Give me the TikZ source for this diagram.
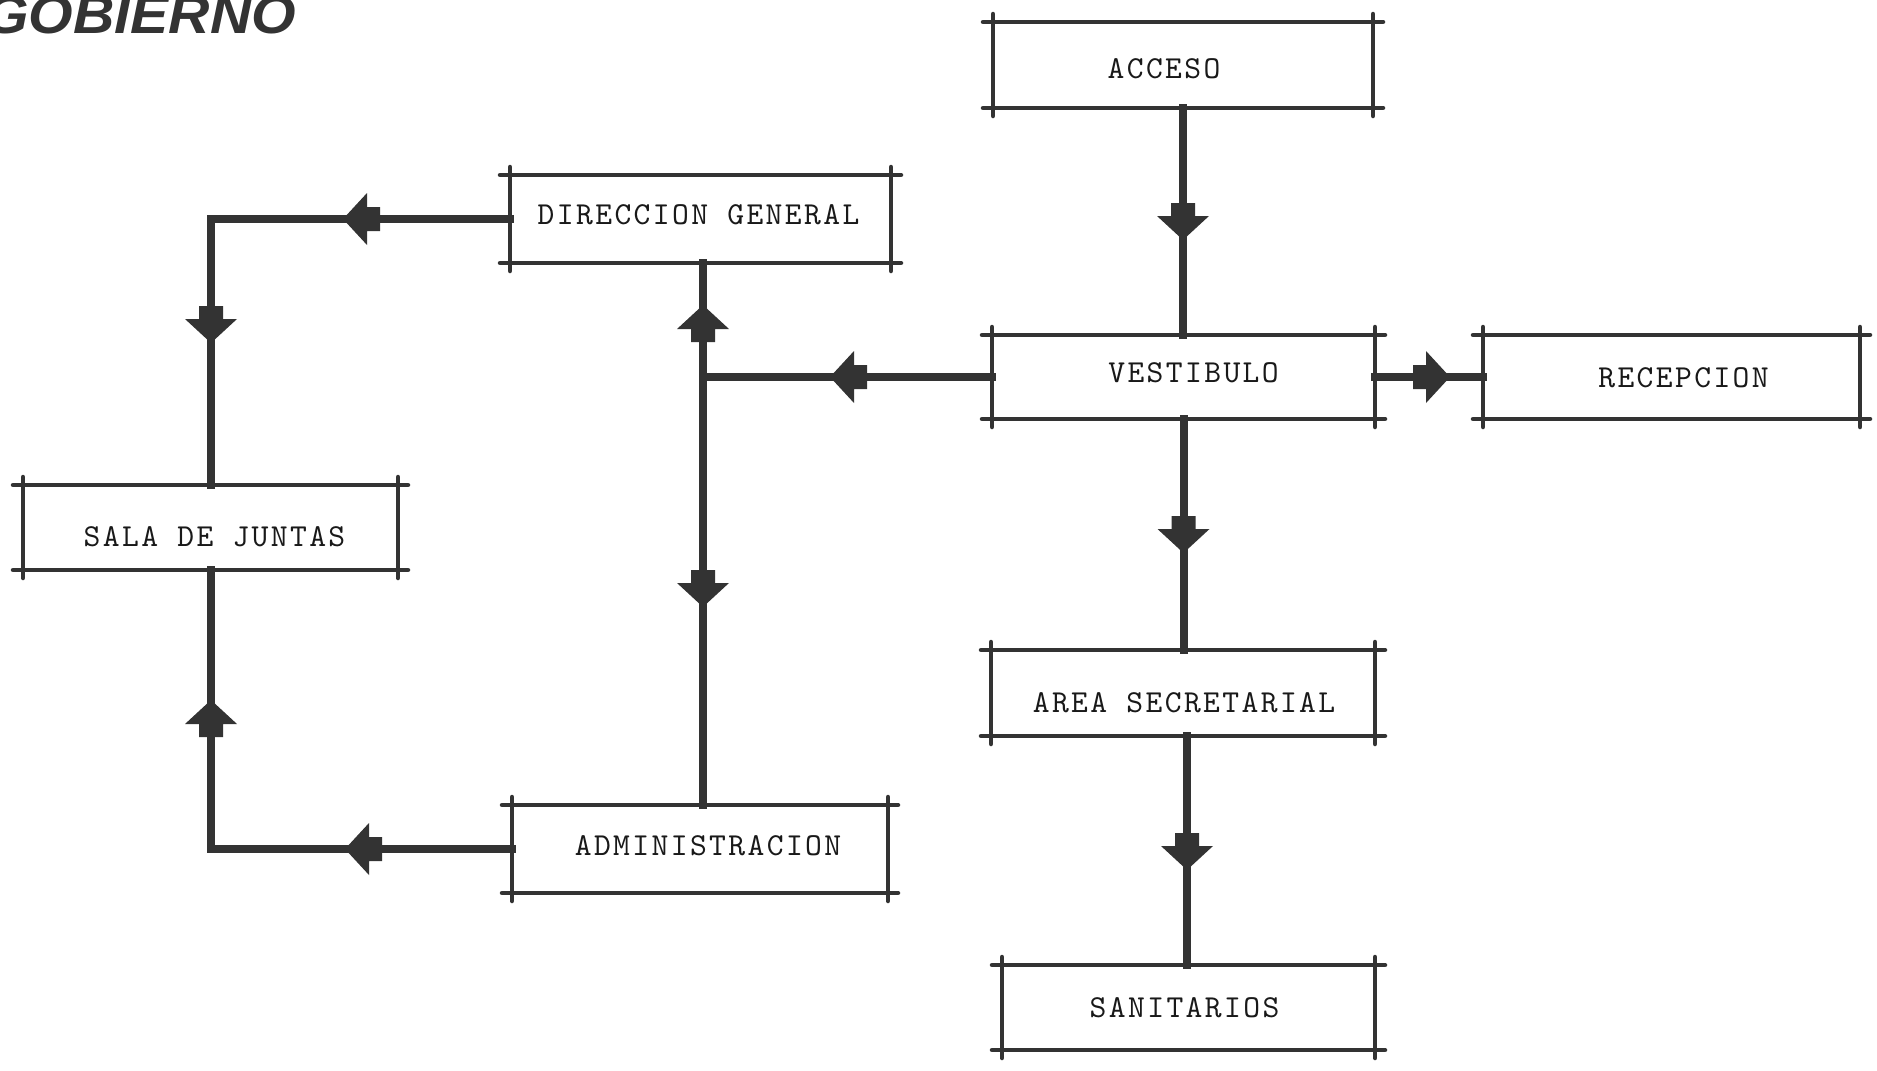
\documentclass[tikz,border=0pt]{standalone}
\usepackage{fontspec}
\newfontfamily\titlefont{Liberation Sans}
\newfontfamily\typefont{lmmono10-regular}[Extension=.otf, LetterSpace=7.5]
\usetikzlibrary{decorations.markings}

\definecolor{ink}{gray}{0.2}

% four crossing lines round a room, running past its corners
\newcommand\roomframe[1]{%
  \draw[frameline] ([xshift=-10pt]#1.north west) -- ([xshift=10pt]#1.north east);
  \draw[frameline] ([xshift=-10pt]#1.south west) -- ([xshift=10pt]#1.south east);
  \draw[frameline] ([yshift=8pt]#1.north west) -- ([yshift=-8pt]#1.south west);
  \draw[frameline] ([yshift=8pt]#1.north east) -- ([yshift=-8pt]#1.south east);}

\begin{document}
\begin{tikzpicture}[x=1pt,y=-1pt,
  room/.style 2 args={minimum width=#1, minimum height=#2, inner sep=0pt, outer sep=0pt},
  roomtext/.style={font=\typefont\fontsize{32}{32}\selectfont, text=black!90, inner sep=0pt},
  frameline/.style={draw=ink, line width=4.5pt, line cap=round},
  conn/.style={draw=ink, line width=8pt, line cap=rect},
  head/.style={postaction={decorate, decoration={markings,
      mark=at position #1 with {\fill[ink] (0,0) -- (-24,-26) -- (-24,-12) -- (-37,-12)
        -- (-37,12) -- (-24,12) -- (-24,26) -- cycle;}}}}]

\useasboundingbox (0,0) rectangle (1877,1071);
\clip (0,0) rectangle (1877,1071);

% heading
\node[anchor=base west, inner sep=0pt, text=ink, xscale=1.06,
      font=\titlefont\bfseries\itshape\fontsize{54}{54}\selectfont] (title) at (-16,33) {GOBIERNO};

% rooms
\node[room={380pt}{86pt}, label={[roomtext, shift={(-19,4)}]center:ACCESO}] (acceso) at (1183,65) {};
\node[room={381pt}{88pt}, label={[roomtext, shift={(-2,-4)}]center:DIRECCION GENERAL}] (direccion) at (700.5,219) {};
\node[room={383pt}{84pt}, label={[roomtext, shift={(10,-4)}]center:VESTIBULO}] (vestibulo) at (1183.5,377) {};
\node[room={377pt}{84pt}, label={[roomtext, shift={(12,1)}]center:RECEPCION}] (recepcion) at (1671.5,377) {};
\node[room={375pt}{85pt}, label={[roomtext, shift={(4,9)}]center:SALA DE JUNTAS}] (sala) at (210.5,527.5) {};
\node[room={384pt}{86pt}, label={[roomtext, shift={(1,10)}]center:AREA SECRETARIAL}] (area) at (1183,693) {};
\node[room={376pt}{88pt}, label={[roomtext, shift={(8,-3)}]center:ADMINISTRACION}] (admin) at (700,849) {};
\node[room={373pt}{85pt}, label={[roomtext, shift={(-4,0)}]center:SANITARIOS}] (sanit) at (1188.5,1007.5) {};

% bends and junction of the connectors
\coordinate (tl) at (211,219);
\coordinate (bl) at (211,849);
\coordinate (jn) at (703,377);

% connectors
\draw[conn, head=132pt] (acceso.south) -- (acceso.south |- vestibulo.north);
\draw[conn, head=134pt] (vestibulo.south) -- (vestibulo.south |- area.north);
\draw[conn, head=134pt] (area.south -| 1187,0) -- (1187,0 |- sanit.north);
\draw[conn, head=75pt] (vestibulo.east) -- (recepcion.west);
\draw[conn, head=162pt] (vestibulo.west) -- (jn);
\draw[conn, head=72pt] (jn) -- (jn |- direccion.south);
\draw[conn, head=230pt] (jn) -- (jn |- admin.north);
\draw[conn, head=167pt] (direccion.west) -- (tl);
\draw[conn, head=124pt] (tl) -- (tl |- sala.north);
\draw[conn, head=167pt] (admin.west) -- (bl);
\draw[conn, head=149pt] (bl) -- (bl |- sala.south);

% room outlines
\foreach \r in {acceso,direccion,vestibulo,recepcion,sala,area,admin,sanit}
  {\roomframe{\r}}
\end{tikzpicture}
\end{document}
